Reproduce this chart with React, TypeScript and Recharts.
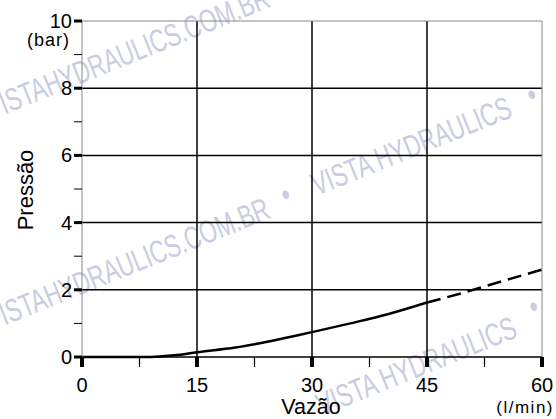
import React from "react";
import {
  LineChart,
  Line,
  XAxis,
  YAxis,
  CartesianGrid,
  ReferenceLine,
} from "recharts";

// Flow (l/min) vs pressure (bar)
const flowValues = [0, 5, 9, 12, 15, 20, 25, 30, 35, 40, 45, 50, 55, 60];
const measuredPressure = [0, 0, 0, 0.05, 0.14, 0.28, 0.49, 0.74, 1.0, 1.28, 1.62, null, null, null];
const extrapolatedPressure = [null, null, null, null, null, null, null, null, null, null, 1.62, 1.93, 2.27, 2.6];

const xTicks = [0, 7.5, 15, 22.5, 30, 37.5, 45, 52.5, 60];
const xLabelled = [0, 15, 30, 45, 60];
const yTicks = [0, 1, 2, 3, 4, 5, 6, 7, 8, 9, 10];
const yLabelled = [0, 2, 4, 6, 8, 10];
const gridX = [15, 30, 45];
const gridY = [2, 4, 6, 8];

// background watermark pieces (baseline start points)
const watermarks = [
  { text: "VISTAHYDRAULICS.COM.BR", x: -9, y: 120 },
  { text: "VISTAHYDRAULICS.COM.BR", x: -9, y: 331 },
  { text: "•", x: 286, y: 206 },
  { text: "VISTA HYDRAULICS", x: 317, y: 196 },
  { text: "•", x: 532, y: 106 },
  { text: "VISTAHYDRAULICS.COM.BR", x: -9, y: 551 },
  { text: "VISTA HYDRAULICS", x: 322, y: 416 },
  { text: "•", x: 534, y: 318 },
];

const data = flowValues.map((flow, i) => ({
  flow,
  measured: measuredPressure[i],
  extrapolated: extrapolatedPressure[i],
}));

const FONT = "'Liberation Sans', Arial, sans-serif";

const YTick = ({ x, y, payload }: any) => {
  const major = yLabelled.includes(payload.value);
  return (
    <g>
      <line x1={x - 8} x2={x} y1={y} y2={y} stroke="#000" strokeWidth={major ? 3 : 1} />
      {major && (
        <text x={x - 10} y={y + 7} textAnchor="end" fontSize={20} fontFamily={FONT} fill="#000">
          {payload.value}
        </text>
      )}
      {payload.value === 10 && (
        <text x={x - 12} y={y + 25} textAnchor="end" fontSize={18} fontFamily={FONT} letterSpacing={1} fill="#000">
          (bar)
        </text>
      )}
    </g>
  );
};

const XTick = ({ x, y, payload }: any) => {
  const major = xLabelled.includes(payload.value);
  return (
    <g>
      <line x1={x} x2={x} y1={y} y2={y + 10} stroke="#000" strokeWidth={major ? 4 : 1.2} />
      {major && (
        <text x={x} y={y + 35} textAnchor="middle" fontSize={20} fontFamily={FONT} fill="#000">
          {payload.value}
        </text>
      )}
    </g>
  );
};

export default function App() {
  return (
    <div style={{ position: "absolute", left: 0, top: 0, width: 556, height: 419, overflow: "hidden", background: "#fff" }}>
      <svg width={556} height={419} style={{ position: "absolute", left: 0, top: 0 }}>
        {watermarks.map((w, i) => (
          <text
            key={i}
            transform={`translate(${w.x},${w.y}) rotate(-22) scale(0.7,1)`}
            fontFamily={FONT}
            fontSize={32}
            fill="#c9cce2"
          >
            {w.text}
          </text>
        ))}
      </svg>
      <div style={{ position: "absolute", left: 0, top: 0 }}>
        <LineChart width={556} height={419} data={data} margin={{ top: 21, right: 14, left: 0, bottom: 0 }}>
          <CartesianGrid
            horizontalValues={gridY}
            verticalValues={gridX}
            stroke="#000"
            strokeWidth={1.5}
          />
          <ReferenceLine y={10} stroke="#888" strokeWidth={1} />
          <ReferenceLine x={60} stroke="#888" strokeWidth={1} />
          <XAxis
            dataKey="flow"
            type="number"
            domain={[0, 60]}
            ticks={xTicks}
            interval={0}
            height={62}
            tickSize={0}
            tickMargin={0}
            tickLine={false}
            axisLine={{ stroke: "#000", strokeWidth: 1.5 }}
            tick={<XTick />}
          />
          <YAxis
            type="number"
            domain={[0, 10]}
            ticks={yTicks}
            interval={0}
            width={82}
            tickSize={0}
            tickMargin={0}
            tickLine={false}
            axisLine={{ stroke: "#888", strokeWidth: 1 }}
            tick={<YTick />}
          />
          <Line
            type="monotone"
            dataKey="measured"
            stroke="#000"
            strokeWidth={2.5}
            dot={false}
            connectNulls={false}
            isAnimationActive={false}
          />
          <Line
            type="monotone"
            dataKey="extrapolated"
            stroke="#000"
            strokeWidth={2.5}
            strokeDasharray="14 7"
            dot={false}
            connectNulls={false}
            isAnimationActive={false}
          />
        </LineChart>
      </div>
      <svg width={556} height={419} style={{ position: "absolute", left: 0, top: 0, pointerEvents: "none" }}>
        <text x={311} y={414} textAnchor="middle" fontFamily={FONT} fontSize={21.5} fill="#000">
          Vazão
        </text>
        <text x={554} y={413} textAnchor="end" fontFamily={FONT} fontSize={17} letterSpacing={1.5} fill="#000">
          (l/min)
        </text>
        <text
          transform="translate(33,190) rotate(-90)"
          textAnchor="middle"
          fontFamily={FONT}
          fontSize={22}
          fill="#000"
        >
          Pressão
        </text>
      </svg>
    </div>
  );
}
